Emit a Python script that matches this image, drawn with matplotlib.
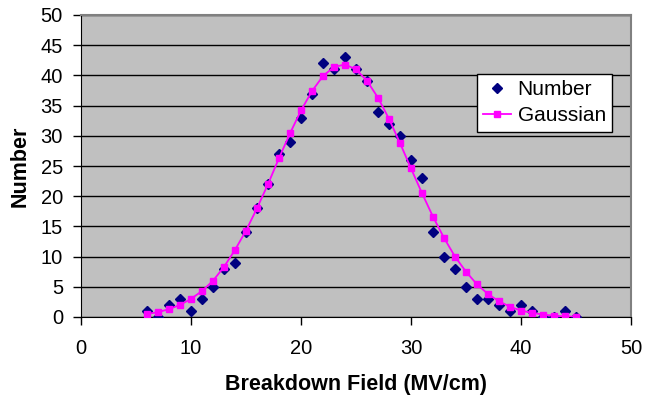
import matplotlib
matplotlib.use("Agg")
import matplotlib.pyplot as plt

plt.rcParams['font.family'] = ['Liberation Sans', 'DejaVu Sans']

# Breakdown field values (MV/cm)
field = list(range(6, 46))

# measured counts
number = [1, 0, 2, 3, 1, 3, 5, 8, 9, 14,
          18, 22, 27, 29, 33, 37, 42, 41, 43, 41,
          39, 34, 32, 30, 26, 23, 14, 10, 8, 5,
          3, 3, 2, 1, 2, 1, 0, 0, 1, 0]

# gaussian fit
gaussian = [0.5, 0.8, 1.3, 2.0, 3.0, 4.3, 6.0, 8.3, 11.1, 14.3,
            18.0, 22.0, 26.3, 30.4, 34.2, 37.4, 39.9, 41.4, 41.8, 41.0,
            39.1, 36.3, 32.8, 28.8, 24.6, 20.5, 16.6, 13.1, 10.0, 7.5,
            5.4, 3.8, 2.6, 1.7, 1.05, 0.7, 0.4, 0.2, 0.1, 0.05]

fig = plt.figure(figsize=(6.47, 3.98), dpi=100)
ax = fig.add_axes([81 / 647, 1 - 317 / 398, 550 / 647, 302 / 398])
ax.set_facecolor('#C0C0C0')

ax.plot(field, number, linestyle='none', marker='D', markersize=5.5,
        color='#000080', label='Number', zorder=3)
ax.plot(field, gaussian, color='#FF00FF', linewidth=1.3, marker='s',
        markersize=5, label='Gaussian', zorder=4)

ax.set_xlim(0, 50)
ax.set_ylim(0, 50)
ax.set_xticks(range(0, 51, 10))
ax.set_yticks(range(0, 51, 5))
ax.yaxis.grid(True, color='black', linewidth=1)
ax.set_axisbelow(True)

for side in ['top', 'right']:
    ax.spines[side].set_color('#808080')
    ax.spines[side].set_linewidth(1.5)
ax.spines['left'].set_color('black')
ax.spines['bottom'].set_color('black')

ax.tick_params(direction='out', length=6, width=1, labelsize=14.5)
ax.tick_params(axis='x', pad=9.5)
ax.tick_params(axis='y', pad=7)

ax.set_xlabel('Breakdown Field (MV/cm)', fontsize=15.5, fontweight='bold', labelpad=12)
ax.set_ylabel('Number', fontsize=15.5, fontweight='bold', labelpad=7)

leg = ax.legend(loc='upper left', bbox_to_anchor=(0.72, 0.805), fontsize=15,
                frameon=True, fancybox=False, framealpha=1, edgecolor='black',
                borderpad=0.3, labelspacing=0.35, handlelength=1.35, handletextpad=0.3,
                borderaxespad=0)
leg.get_frame().set_linewidth(1)

fig.savefig('out.png', dpi=100)
